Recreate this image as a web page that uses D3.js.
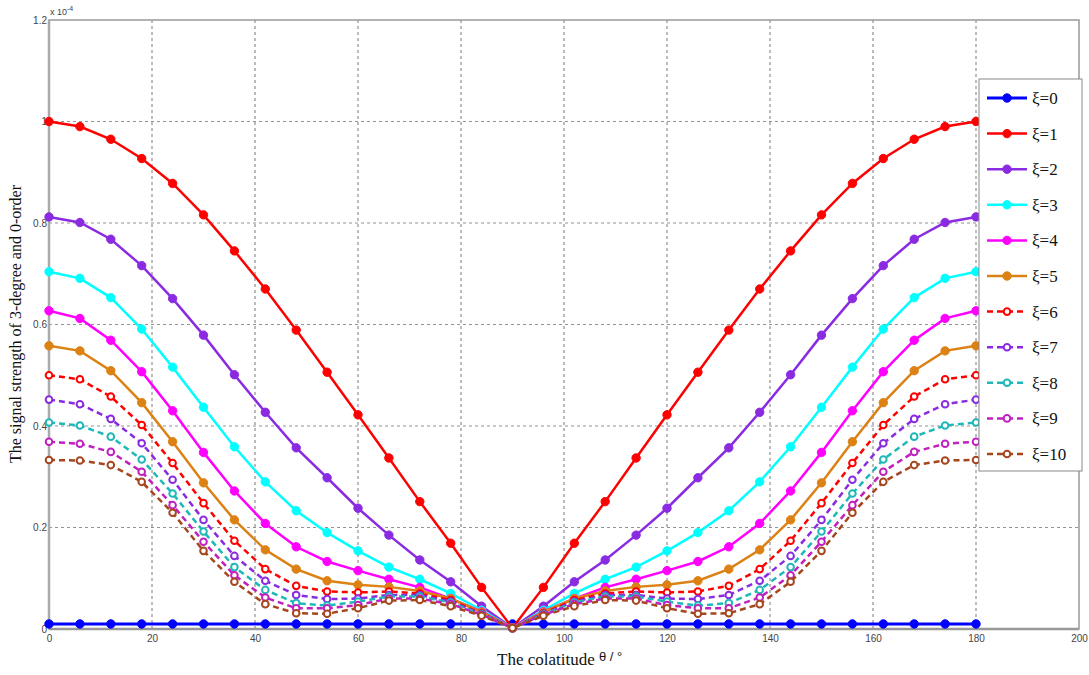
<!DOCTYPE html>
<html><head><meta charset="utf-8">
<script src="https://cdn.jsdelivr.net/npm/d3@7/dist/d3.min.js"></script>
<style>body{margin:0;background:#fff;} svg{display:block;}</style>
</head><body>
<svg id="c" width="1089" height="675"></svg>
<script>
const theta = [0,6,12,18,24,30,36,42,48,54,60,66,72,78,84,90,96,102,108,114,120,126,132,138,144,150,156,162,168,174,180];
const xTicks = [0,20,40,60,80,100,120,140,160,180,200];
const yTicks = [0,0.2,0.4,0.6,0.8,1,1.2];
const yTickLabels = ["0","0.2","0.4","0.6","0.8","1","1.2"];
const seriesNames = ["ξ=0","ξ=1","ξ=2","ξ=3","ξ=4","ξ=5","ξ=6","ξ=7","ξ=8","ξ=9","ξ=10"];
const seriesColors = ["#0000ff","#ff0000","#8a2be2","#00ffff","#ff00ff","#dc8214","#ff0000","#8a2be2","#1fb8b8","#c020c0","#a5461e"];
const seriesDashed = [false,false,false,false,false,false,true,true,true,true,true];

const s0  = [0.010,0.010,0.010,0.010,0.010,0.010,0.010,0.010,0.010,0.010,0.010,0.010,0.010,0.010,0.010,0.010,0.010,0.010,0.010,0.010,0.010,0.010,0.010,0.010,0.010,0.010,0.010,0.010,0.010,0.010,0.010];
const s1  = [1.000,0.990,0.965,0.927,0.878,0.816,0.745,0.670,0.589,0.506,0.422,0.337,0.251,0.169,0.082,0.002,0.082,0.169,0.251,0.337,0.422,0.506,0.589,0.670,0.745,0.816,0.878,0.927,0.965,0.990,1.000];
const s2  = [0.812,0.801,0.768,0.716,0.651,0.579,0.501,0.427,0.357,0.298,0.238,0.185,0.136,0.093,0.045,0.002,0.045,0.093,0.136,0.185,0.238,0.298,0.357,0.427,0.501,0.579,0.651,0.716,0.768,0.801,0.812];
const s3  = [0.704,0.691,0.653,0.591,0.516,0.437,0.359,0.290,0.233,0.190,0.154,0.122,0.098,0.070,0.037,0.002,0.037,0.070,0.098,0.122,0.154,0.190,0.233,0.290,0.359,0.437,0.516,0.591,0.653,0.691,0.704];
const s4  = [0.627,0.612,0.569,0.507,0.430,0.348,0.272,0.208,0.162,0.133,0.115,0.098,0.082,0.060,0.034,0.002,0.034,0.060,0.082,0.098,0.115,0.133,0.162,0.208,0.272,0.348,0.430,0.507,0.569,0.612,0.627];
const s5  = [0.558,0.548,0.509,0.446,0.369,0.288,0.215,0.156,0.118,0.095,0.087,0.083,0.075,0.060,0.033,0.002,0.033,0.060,0.075,0.083,0.087,0.095,0.118,0.156,0.215,0.288,0.369,0.446,0.509,0.548,0.558];
const s6  = [0.500,0.492,0.458,0.402,0.327,0.248,0.174,0.118,0.085,0.074,0.072,0.074,0.070,0.057,0.031,0.002,0.031,0.057,0.070,0.074,0.072,0.074,0.085,0.118,0.174,0.248,0.327,0.402,0.458,0.492,0.500];
const s7  = [0.452,0.443,0.414,0.366,0.294,0.215,0.144,0.095,0.067,0.059,0.060,0.067,0.067,0.054,0.030,0.002,0.030,0.054,0.067,0.067,0.060,0.059,0.067,0.095,0.144,0.215,0.294,0.366,0.414,0.443,0.452];
const s8  = [0.407,0.401,0.379,0.334,0.267,0.192,0.122,0.077,0.051,0.046,0.054,0.064,0.064,0.052,0.029,0.002,0.029,0.052,0.064,0.064,0.054,0.046,0.051,0.077,0.122,0.192,0.267,0.334,0.379,0.401,0.407];
const s9  = [0.369,0.365,0.349,0.310,0.244,0.172,0.106,0.062,0.041,0.041,0.047,0.060,0.060,0.049,0.028,0.002,0.028,0.049,0.060,0.060,0.047,0.041,0.041,0.062,0.106,0.172,0.244,0.310,0.349,0.365,0.369];
const s10 = [0.333,0.332,0.323,0.290,0.229,0.154,0.093,0.049,0.031,0.030,0.041,0.056,0.057,0.045,0.026,0.002,0.026,0.045,0.057,0.056,0.041,0.030,0.031,0.049,0.093,0.154,0.229,0.290,0.323,0.332,0.333];
const seriesValues = [s0,s1,s2,s3,s4,s5,s6,s7,s8,s9,s10];

const svg = d3.select("#c");
const L = 49, R = 1079, T = 20, B = 629;
const x = d3.scaleLinear().domain([0,200]).range([L,R]);
const y = d3.scaleLinear().domain([0,1.2]).range([B,T]);

// grid
const g = svg.append("g");
g.selectAll(".gx").data(xTicks.filter(d=>d>0&&d<200)).enter().append("line")
  .attr("x1",d=>x(d)).attr("x2",d=>x(d)).attr("y1",T).attr("y2",B)
  .attr("stroke","#555").attr("stroke-width",0.8).attr("stroke-dasharray","3,3");
g.selectAll(".gy").data(yTicks.filter(d=>d>0&&d<1.2)).enter().append("line")
  .attr("x1",L).attr("x2",R).attr("y1",d=>y(d)).attr("y2",d=>y(d))
  .attr("stroke","#777").attr("stroke-width",0.8).attr("stroke-dasharray","3,3");

// axes box
svg.append("rect").attr("x",L).attr("y",T).attr("width",R-L).attr("height",B-T)
  .attr("fill","none").attr("stroke","#999").attr("stroke-width",1.5);
svg.append("line").attr("x1",L).attr("x2",L).attr("y1",T).attr("y2",B).attr("stroke","#aaa").attr("stroke-width",2.5);
svg.append("line").attr("x1",L).attr("x2",R).attr("y1",B).attr("y2",B).attr("stroke","#999").attr("stroke-width",2.5);

// axes ticks via d3 axis
const xAxis = d3.axisBottom(x).tickValues(xTicks).tickSize(0).tickPadding(6).tickFormat(d3.format("d"));
const xa = svg.append("g").attr("transform",`translate(0,${B})`).call(xAxis);
xa.select(".domain").remove();
xa.selectAll("text").attr("font-family","Liberation Sans, Arial, sans-serif").attr("font-size",10).attr("fill","#444");
const yAxis = d3.axisLeft(y).tickValues(yTicks).tickSize(0).tickPadding(2).tickFormat((d,i)=>yTickLabels[i]);
const ya = svg.append("g").attr("transform",`translate(${L},0)`).call(yAxis);
ya.select(".domain").remove();
ya.selectAll("text").attr("font-family","Liberation Sans, Arial, sans-serif").attr("font-size",10).attr("fill","#444");

// exponent
const ex = svg.append("text").attr("x",50).attr("y",15).attr("font-family","Liberation Sans, Arial, sans-serif").attr("font-size",9).attr("fill","#444");
ex.append("tspan").text("x 10");
ex.append("tspan").attr("dy",-4).attr("font-size",7).text("-4");

// series
const line = d3.line().x((d,i)=>x(theta[i])).y(d=>y(d));
seriesValues.forEach((vals,k)=>{
  const col = seriesColors[k];
  const gg = svg.append("g");
  gg.append("path").datum(vals).attr("d",line).attr("fill","none").attr("stroke",col)
    .attr("stroke-width", k===0?3:2.5)
    .attr("stroke-dasharray", seriesDashed[k]?"6,4":null);
  gg.selectAll("circle").data(vals).enter().append("circle")
    .attr("cx",(d,i)=>x(theta[i])).attr("cy",d=>y(d))
    .attr("r", seriesDashed[k]?3.3:4.2)
    .attr("fill", seriesDashed[k]?"#fff":col)
    .attr("stroke",col).attr("stroke-width", seriesDashed[k]?2:1);
});

// legend
const lgX = 979, lgY = 79, lgW = 103, lgH = 392, step = 35.6;
svg.append("rect").attr("x",lgX).attr("y",lgY).attr("width",lgW).attr("height",lgH)
  .attr("fill","#fff").attr("stroke","#888").attr("stroke-width",1);
seriesNames.forEach((nm,k)=>{
  const yy = lgY + 19 + k*step;
  const col = seriesColors[k];
  svg.append("line").attr("x1",lgX+8).attr("x2",lgX+48).attr("y1",yy).attr("y2",yy)
    .attr("stroke",col).attr("stroke-width",k===0?3:2.5).attr("stroke-dasharray",seriesDashed[k]?"6,4":null);
  svg.append("circle").attr("cx",lgX+28).attr("cy",yy).attr("r",seriesDashed[k]?3.3:4.2)
    .attr("fill",seriesDashed[k]?"#fff":col).attr("stroke",col).attr("stroke-width",seriesDashed[k]?2:1);
  svg.append("text").attr("x",lgX+53).attr("y",yy+6).attr("font-family","Liberation Serif, Times New Roman, serif")
    .attr("font-size",17).attr("fill","#111").text(nm);
});

// axis labels
const xl = svg.append("text").attr("x",497).attr("y",665).attr("fill","#111");
xl.append("tspan").attr("font-family","Liberation Serif, Times New Roman, serif").attr("font-size",17).text("The colatitude ");
xl.append("tspan").attr("font-family","Liberation Sans, Arial, sans-serif").attr("font-size",13).attr("dy",-4).text("θ / °");
svg.append("text").attr("transform","translate(21,324) rotate(-90)").attr("text-anchor","middle")
  .attr("font-family","Liberation Serif, Times New Roman, serif").attr("font-size",16).attr("fill","#111")
  .text("The signal strength of 3-degree and 0-order");
</script>
</body></html>
